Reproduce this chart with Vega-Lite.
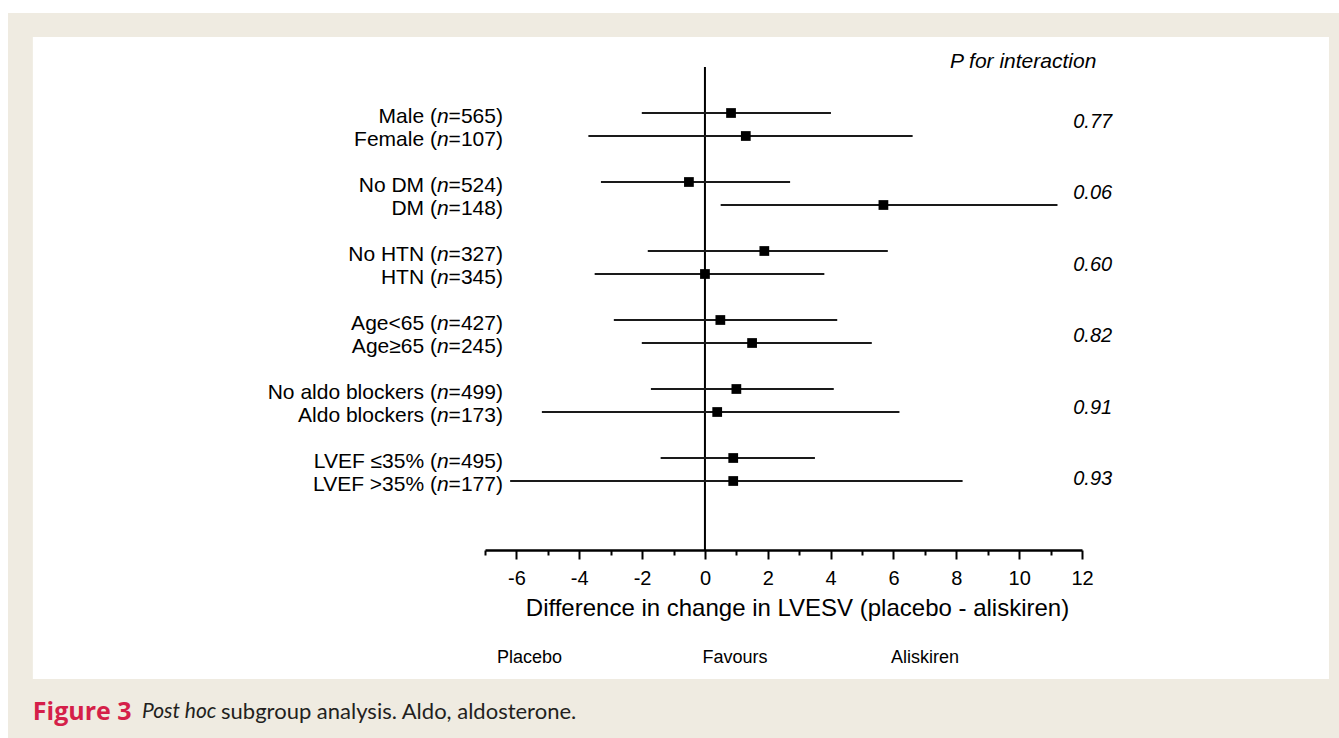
{
  "$schema": "https://vega.github.io/schema/vega-lite/v6.json",
  "width": 597,
  "height": 483,
  "autosize": {"type": "none"},
  "padding": {"left": 485, "top": 67, "right": 257, "bottom": 188},
  "background": "#ffffff",
  "config": {"view": {"stroke": null}, "font": "Liberation Sans"},
  "resolve": {"scale": {"x": "shared", "y": "shared"}, "axis": {"x": "independent"}},
  "datasets": {
    "rows": [
      {"row": 0, "prefix": "Male (", "n": "n", "suffix": "=565)", "est": 0.83, "lo": -2.01, "hi": 4.01},
      {"row": 1, "prefix": "Female (", "n": "n", "suffix": "=107)", "est": 1.30, "lo": -3.71, "hi": 6.61},
      {"row": 3, "prefix": "No DM (", "n": "n", "suffix": "=524)", "est": -0.51, "lo": -3.31, "hi": 2.71},
      {"row": 4, "prefix": "DM (", "n": "n", "suffix": "=148)", "est": 5.68, "lo": 0.50, "hi": 11.22},
      {"row": 6, "prefix": "No HTN (", "n": "n", "suffix": "=327)", "est": 1.89, "lo": -1.82, "hi": 5.82},
      {"row": 7, "prefix": "HTN (", "n": "n", "suffix": "=345)", "est": 0.0, "lo": -3.51, "hi": 3.80},
      {"row": 9, "prefix": "Age<65 (", "n": "n", "suffix": "=427)", "est": 0.49, "lo": -2.90, "hi": 4.21},
      {"row": 10, "prefix": "Age≥65 (", "n": "n", "suffix": "=245)", "est": 1.50, "lo": -2.01, "hi": 5.31},
      {"row": 12, "prefix": "No aldo blockers (", "n": "n", "suffix": "=499)", "est": 1.00, "lo": -1.72, "hi": 4.10},
      {"row": 13, "prefix": "Aldo blockers (", "n": "n", "suffix": "=173)", "est": 0.39, "lo": -5.19, "hi": 6.19},
      {"row": 15, "prefix": "LVEF ≤35% (", "n": "n", "suffix": "=495)", "est": 0.90, "lo": -1.41, "hi": 3.50},
      {"row": 16, "prefix": "LVEF >35% (", "n": "n", "suffix": "=177)", "est": 0.90, "lo": -6.20, "hi": 8.20}
    ],
    "pvals": [
      {"row": 0.378, "p": "0.77"},
      {"row": 3.478, "p": "0.06"},
      {"row": 6.609, "p": "0.60"},
      {"row": 9.696, "p": "0.82"},
      {"row": 12.826, "p": "0.91"},
      {"row": 15.913, "p": "0.93"}
    ]
  },
  "layer": [
    {
      "data": {"values": [{}]},
      "mark": {"type": "rect", "color": "#efebe1", "clip": false},
      "encoding": {
        "x": {"datum": -22.18, "type": "quantitative", "scale": {"domain": [-7, 12], "nice": false, "zero": false}, "axis": null},
        "x2": {"datum": 20.18},
        "y": {"datum": -4.348, "type": "quantitative", "scale": {"domain": [-2, 19], "reverse": true, "nice": false, "zero": false}, "axis": null},
        "y2": {"datum": 27.17}
      }
    },
    {
      "data": {"values": [{}]},
      "mark": {"type": "rect", "color": "#ffffff", "clip": false},
      "encoding": {
        "x": {"datum": -21.39, "type": "quantitative", "axis": null},
        "x2": {"datum": 19.86},
        "y": {"datum": -3.304, "type": "quantitative", "axis": null},
        "y2": {"datum": 24.61}
      }
    },
    {
      "data": {"values": [{}]},
      "mark": {"type": "rule", "color": "#000000", "strokeWidth": 2},
      "encoding": {"x": {"datum": 0, "type": "quantitative", "axis": null}}
    },
    {
      "data": {"name": "rows"},
      "mark": {"type": "rule", "color": "#1a1a1a", "strokeWidth": 2, "clip": false},
      "encoding": {
        "x": {
          "field": "lo", "type": "quantitative",
          "axis": {
            "orient": "bottom",
            "zindex": 2,
            "title": "Difference in change in LVESV (placebo - aliskiren)",
            "values": [-6, -4, -2, 0, 2, 4, 6, 8, 10, 12],
            "grid": false,
            "domain": true, "domainColor": "#000000", "domainWidth": 2.5,
            "ticks": true, "tickColor": "#000000", "tickWidth": 2, "tickSize": 9,
            "labelExpr": "'' + datum.value",
            "labelFont": "Liberation Sans", "labelFontSize": 20, "labelColor": "#000000", "labelPadding": 9,
            "labelFlush": false, "labelOverlap": false, "labelBound": false,
            "titleFont": "Liberation Sans", "titleFontSize": 24, "titleFontWeight": "normal", "titleColor": "#000000",
            "titleX": 312, "titleY": 58, "titleBaseline": "middle", "titleAlign": "center"
          }
        },
        "x2": {"field": "hi"},
        "y": {"field": "row", "type": "quantitative", "axis": null}
      }
    },
    {
      "data": {"name": "rows"},
      "mark": {"type": "point", "shape": "square", "filled": true, "color": "#000000", "opacity": 1, "size": 95},
      "encoding": {
        "x": {
          "field": "est", "type": "quantitative",
          "axis": {
            "orient": "bottom",
            "zindex": 2,
            "title": null,
            "values": [-7, -5, -3, -1, 1, 3, 5, 7, 9, 11],
            "grid": false, "domain": false, "labels": false,
            "ticks": true, "tickColor": "#000000", "tickWidth": 2, "tickSize": 5
          }
        },
        "y": {"field": "row", "type": "quantitative", "axis": null}
      }
    },
    {
      "data": {"name": "rows"},
      "mark": {"type": "text", "align": "right", "baseline": "alphabetic", "dy": 10, "fontSize": 21, "font": "Liberation Sans", "color": "#000000", "clip": false},
      "encoding": {
        "x": {"datum": -6.43, "type": "quantitative", "axis": null},
        "y": {"field": "row", "type": "quantitative", "axis": null},
        "text": {"field": "suffix"}
      }
    },
    {
      "data": {"name": "rows"},
      "mark": {"type": "text", "align": "right", "baseline": "alphabetic", "dy": 10, "dx": -54.3, "fontSize": 21, "fontStyle": "italic", "font": "Liberation Sans", "color": "#000000", "clip": false},
      "encoding": {
        "x": {"datum": -6.43, "type": "quantitative", "axis": null},
        "y": {"field": "row", "type": "quantitative", "axis": null},
        "text": {"field": "n"}
      }
    },
    {
      "data": {"name": "rows"},
      "mark": {"type": "text", "align": "right", "baseline": "alphabetic", "dy": 10, "dx": -65.96, "fontSize": 21, "font": "Liberation Sans", "color": "#000000", "clip": false},
      "encoding": {
        "x": {"datum": -6.43, "type": "quantitative", "axis": null},
        "y": {"field": "row", "type": "quantitative", "axis": null},
        "text": {"field": "prefix"}
      }
    },
    {
      "data": {"name": "pvals"},
      "mark": {"type": "text", "align": "right", "baseline": "middle", "fontSize": 20, "fontStyle": "italic", "font": "Liberation Sans", "color": "#000000", "clip": false},
      "encoding": {
        "x": {"datum": 12.96, "type": "quantitative", "axis": null},
        "y": {"field": "row", "type": "quantitative", "axis": null},
        "text": {"field": "p"}
      }
    },
    {
      "data": {"values": [{"t": "P for interaction"}]},
      "mark": {"type": "text", "align": "left", "baseline": "middle", "fontSize": 21, "fontStyle": "italic", "font": "Liberation Sans", "color": "#000000", "clip": false},
      "encoding": {
        "x": {"datum": 7.80, "type": "quantitative", "axis": null},
        "y": {"datum": -2.217, "type": "quantitative", "axis": null},
        "text": {"field": "t"}
      }
    },
    {
      "data": {"values": [{"t": "Placebo"}]},
      "mark": {"type": "text", "align": "center", "baseline": "middle", "fontSize": 18, "font": "Liberation Sans", "color": "#000000", "clip": false},
      "encoding": {
        "x": {"datum": -5.58, "type": "quantitative", "axis": null},
        "y": {"datum": 23.70, "type": "quantitative", "axis": null},
        "text": {"field": "t"}
      }
    },
    {
      "data": {"values": [{"t": "Favours"}]},
      "mark": {"type": "text", "align": "center", "baseline": "middle", "fontSize": 18, "font": "Liberation Sans", "color": "#000000", "clip": false},
      "encoding": {
        "x": {"datum": 0.96, "type": "quantitative", "axis": null},
        "y": {"datum": 23.70, "type": "quantitative", "axis": null},
        "text": {"field": "t"}
      }
    },
    {
      "data": {"values": [{"t": "Aliskiren"}]},
      "mark": {"type": "text", "align": "center", "baseline": "middle", "fontSize": 18, "font": "Liberation Sans", "color": "#000000", "clip": false},
      "encoding": {
        "x": {"datum": 7.0, "type": "quantitative", "axis": null},
        "y": {"datum": 23.70, "type": "quantitative", "axis": null},
        "text": {"field": "t"}
      }
    },
    {
      "data": {"values": [{"t": "Figure 3"}]},
      "mark": {"type": "text", "align": "left", "baseline": "middle", "fontSize": 25, "fontWeight": "bold", "font": "Open Sans", "color": "#d51f49", "clip": false},
      "encoding": {
        "x": {"datum": -21.39, "type": "quantitative", "axis": null},
        "y": {"datum": 26.04, "type": "quantitative", "axis": null},
        "text": {"field": "t"}
      }
    },
    {
      "data": {"values": [{"t": "Post hoc"}]},
      "mark": {"type": "text", "align": "left", "baseline": "middle", "fontSize": 21, "fontStyle": "italic", "font": "Lato", "color": "#231f20", "clip": false},
      "encoding": {
        "x": {"datum": -17.92, "type": "quantitative", "axis": null},
        "y": {"datum": 26.04, "type": "quantitative", "axis": null},
        "text": {"field": "t"}
      }
    },
    {
      "data": {"values": [{"t": "subgroup analysis. Aldo, aldosterone."}]},
      "mark": {"type": "text", "align": "left", "baseline": "middle", "fontSize": 22, "font": "Lato", "color": "#231f20", "clip": false},
      "encoding": {
        "x": {"datum": -15.40, "type": "quantitative", "axis": null},
        "y": {"datum": 26.04, "type": "quantitative", "axis": null},
        "text": {"field": "t"}
      }
    }
  ]
}
